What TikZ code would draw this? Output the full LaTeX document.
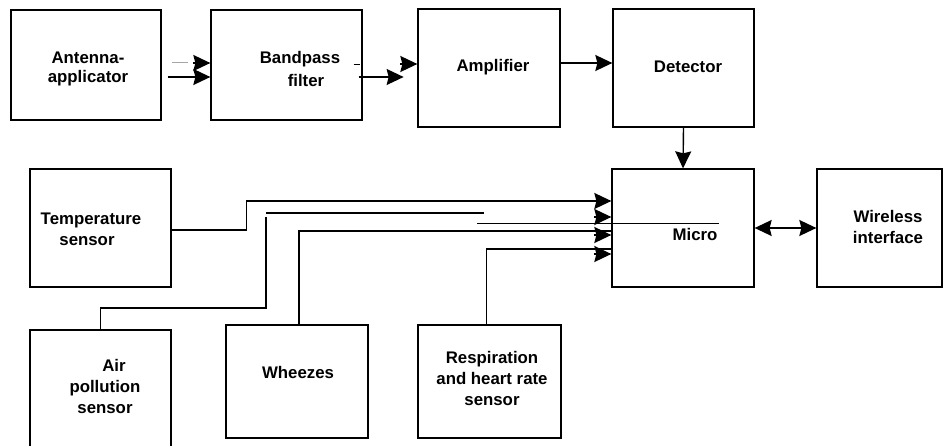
\documentclass[tikz,border=0pt]{standalone}
\usepackage{fontspec}
\setmainfont{Liberation Sans}
\usetikzlibrary{arrows.meta,calc}
\begin{document}
\begin{tikzpicture}[x=1pt,y=-1pt,
  box/.style={draw, line width=1.3pt, inner sep=0pt},
  lbl/.style={inner sep=0pt, align=center, font=\bfseries\fontsize{16.8}{21}\selectfont},
  wire/.style={line width=1.4pt},
  heavy/.style={line width=2.1pt},
  head/.style={-{Stealth[length=17pt,width=16pt,inset=2pt]}, line width=1.4pt},
  twoheads/.style={{Stealth[length=17pt,width=16pt,inset=2pt]}-{Stealth[length=17pt,width=16pt,inset=2pt]}, line width=1.4pt},
]
\useasboundingbox (0,0) rectangle (944,446);
\clip (0,0) rectangle (944,446);

% blocks
\node[box, minimum width=150pt, minimum height=110pt] (ant) at (86,65) {};
\node[box, minimum width=151pt, minimum height=110pt] (bp) at (286.5,65) {};
\node[box, minimum width=142pt, minimum height=118pt] (amp) at (489,68) {};
\node[box, minimum width=141pt, minimum height=118pt] (det) at (683.5,68) {};
\node[box, minimum width=142pt, minimum height=118pt] (micro) at (683,228) {};
\node[box, minimum width=125pt, minimum height=118pt] (wl) at (879.5,228) {};
\node[box, minimum width=141pt, minimum height=118pt] (temp) at (100.5,228) {};
\node[box, minimum width=141pt, minimum height=122pt] (air) at (100.5,391) {};
\node[box, line width=2.6pt, minimum width=142pt, minimum height=113pt] (wh) at (297,381.5) {};
\node[box, minimum width=143pt, minimum height=113pt] (resp) at (489.5,381.5) {};

% labels
\node[lbl, font=\bfseries\fontsize{16.8}{18.5}\selectfont] (antT) at (88,69) {Antenna-\\applicator};
\node[lbl, font=\bfseries\fontsize{16.8}{23}\selectfont] (bpT) at (300,69) {Bandpass\\\hspace*{12pt}filter};
\node[lbl] (ampT) at (493,67) {Amplifier};
\node[lbl] (detT) at (688,67) {Detector};
\node[lbl] (microT) at (695,234) {Micro};
\node[lbl] (wlT) at (888,227) {Wireless\\interface};
\node[lbl] (tempT) at (91,229) {Temperature\\sensor\hspace*{8pt}};
\node[lbl] (airT) at (105,386) {\hspace*{18pt}Air\\pollution\\sensor};
\node[lbl] (whT) at (298,372) {Wheezes};
\node[lbl] (respT) at (492,378) {Respiration\\and heart rate\\sensor};

% top chain
\draw[gray!70, line width=1pt] ($(ant.east)+(10,-2)$) -- ++(16,0);
\draw[head] ($(bp.west)+(-17,-2)$) -- ($(bp.west)+(0,-2)$);
\draw[head] ($(ant.east)+(6,12)$) -- ($(bp.west)+(0,12)$);
\draw[line width=0.8pt] ($(bp.east)+(-9,-1)$) -- ++(6,0);
\draw[head] ($(bp.east)+(-4,12)$) -- ++(45,0);
\draw[head] ($(amp.west)+(-17,-4)$) -- ($(amp.west)+(0,-4)$);
\draw[head] ($(amp.east)+(0,-5)$) -- ($(det.west)+(0,-5)$);
\draw[head] (det.south) -- (micro.north);
\draw[twoheads] (micro.east) -- (wl.west);

% sensor inputs to the micro
\draw[head] ($(temp.east)+(0,2)$) -- ++(75,0) |- ($(micro.west)+(0,-27)$);
\draw[wire] (air.north) |- (266,308) -- (266,217);
\draw[heavy] (266,213) -- (484,213);
\draw[head] ($(micro.west)+(-17,-11)$) -- ($(micro.west)+(0,-11)$);
\draw[line width=0.9pt] (477,223) -- ($(micro.west)+(108,-5)$);
\draw[heavy] ($(wh.north)+(2,0)$) |- ($(micro.west)+(0,3)$);
\draw[head] ($(micro.west)+(-17,7)$) -- ($(micro.west)+(0,7)$);
\draw[wire] ($(resp.north)+(-3,0)$) |- ($(micro.west)+(0,21)$);
\draw[head] ($(micro.west)+(-17,26)$) -- ($(micro.west)+(0,26)$);
\end{tikzpicture}
\end{document}
